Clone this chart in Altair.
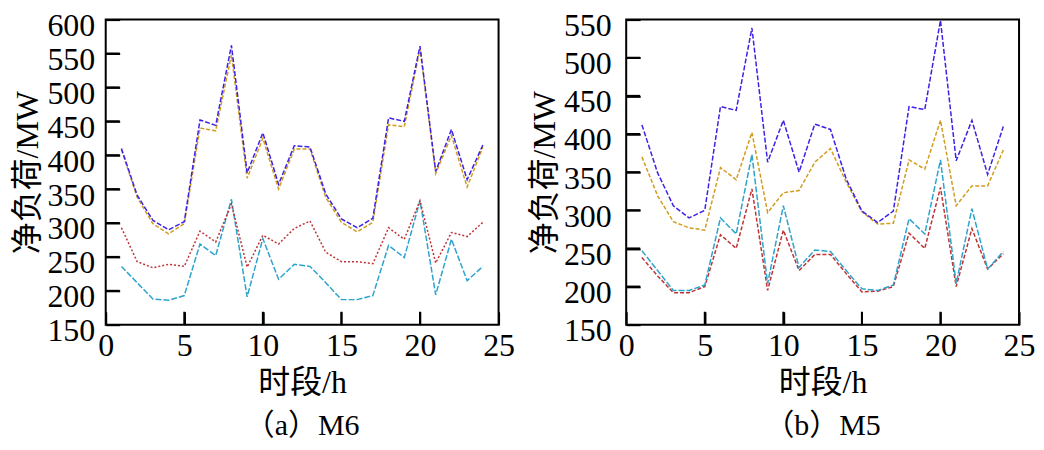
import altair as alt
import pandas as pd

hours = list(range(1, 25))

# (a) M6
m6_blue = [410, 341, 304, 290, 302, 452, 444, 562, 374, 433, 357, 414,
           412, 343, 306, 293, 307, 455, 450, 561, 376, 438, 364, 415]
m6_orange = [408, 338, 299, 284, 299, 440, 436, 548, 366, 425, 350, 409,
             409, 338, 301, 287, 301, 445, 442, 557, 373, 429, 353, 412]
m6_red = [293, 243, 234, 239, 236, 288, 272, 328, 235, 282, 269, 292,
          303, 257, 243, 243, 240, 293, 276, 333, 241, 286, 280, 301]
m6_cyan = [236, 212, 188, 186, 193, 269, 252, 335, 191, 277, 217, 239,
           236, 212, 187, 187, 193, 267, 249, 333, 194, 276, 215, 236]

# (b) M5
m5_blue = [412, 349, 306, 290, 300, 436, 431, 539, 363, 418, 350, 413,
           406, 341, 299, 284, 299, 436, 432, 549, 365, 418, 347, 410]
m5_orange = [370, 319, 285, 277, 274, 356, 340, 402, 297, 323, 326, 363,
             381, 337, 298, 282, 283, 366, 354, 418, 306, 332, 332, 379]
m5_cyan = [247, 221, 195, 195, 202, 290, 269, 373, 204, 306, 225, 248,
           246, 221, 197, 195, 202, 289, 269, 366, 204, 302, 223, 246]
m5_red = [238, 214, 192, 192, 200, 268, 250, 328, 195, 274, 221, 242,
          242, 217, 193, 194, 200, 270, 250, 330, 200, 276, 223, 243]

x_ticks = [0, 5, 10, 15, 20, 25]
m6_y_ticks = [150, 200, 250, 300, 350, 400, 450, 500, 550, 600]
m5_y_ticks = [150, 200, 250, 300, 350, 400, 450, 500, 550]

x_title = "时段/h"
y_title = "净负荷/MW"

FONT = "Liberation Serif, Noto Sans CJK SC"
C_BLUE = "#3d22e6"
C_ORANGE = "#d29c1e"
C_RED = "#bf3336"
C_CYAN = "#2ea4cc"

W, H = 394, 306
YTICK, XTICK = 14, 13


def panel(series, yticks, caption, lab_pad):
    xs = alt.Scale(domain=[x_ticks[0], x_ticks[-1]], nice=False)
    ys = alt.Scale(domain=[yticks[0], yticks[-1]], nice=False)
    # axes pulled inside the frame so that their ticks point inward
    x_axis = alt.Axis(values=x_ticks, ticks=True, tickSize=XTICK, tickWidth=2,
                      tickColor="black", tickOpacity=1, offset=-XTICK,
                      domain=False, grid=False, zindex=2,
                      labelFont=FONT, labelFontSize=32, labelColor="black",
                      labelPadding=6, labelFlush=False, labelOverlap=False,
                      title=x_title, titleFont=FONT, titleFontSize=32,
                      titleFontWeight="normal", titleColor="black",
                      titlePadding=6)
    y_axis = alt.Axis(values=yticks, ticks=True, tickSize=YTICK, tickWidth=2,
                      tickColor="black", tickOpacity=1, offset=-YTICK,
                      domain=False, grid=False, zindex=2,
                      labelFont=FONT, labelFontSize=32, labelColor="black",
                      labelPadding=lab_pad, labelFlush=False, labelOverlap=False,
                      labelOffset=6,
                      title=y_title, titleFont=FONT, titleFontSize=32,
                      titleFontWeight="normal", titleColor="black",
                      titlePadding=2)
    layers = []
    for vals, color, dash in series:
        d = pd.DataFrame({"h": hours, "v": vals})
        layers.append(
            alt.Chart(d).mark_line(color=color, strokeDash=dash, strokeWidth=1.5).encode(
                x=alt.X("h:Q", scale=xs, axis=x_axis),
                y=alt.Y("v:Q", scale=ys, axis=y_axis),
            )
        )
    # inward tick marks drawn as rules as well
    ytk = pd.DataFrame({"yt": yticks[1:-1], "x0": x_ticks[0]})
    xtk = pd.DataFrame({"xt": x_ticks[1:-1], "y0": yticks[0]})
    layers.append(
        alt.Chart(ytk).mark_rule(color="black", strokeWidth=2).encode(
            x=alt.X("x0:Q", scale=xs, axis=x_axis),
            y=alt.Y("yt:Q", scale=ys, axis=y_axis),
            x2=alt.value(YTICK),
        )
    )
    layers.append(
        alt.Chart(xtk).mark_rule(color="black", strokeWidth=2).encode(
            x=alt.X("xt:Q", scale=xs, axis=x_axis),
            y=alt.Y("y0:Q", scale=ys, axis=y_axis),
            y2=alt.value(H - XTICK),
        )
    )
    return alt.layer(*layers).properties(
        width=W, height=H,
        title=alt.TitleParams(caption, orient="bottom", font=FONT, fontSize=30,
                              fontWeight="normal", color="black", offset=13),
    )


left = panel(
    [(m6_cyan, C_CYAN, [6, 2]), (m6_red, C_RED, [2, 2]),
     (m6_orange, C_ORANGE, [4, 2]), (m6_blue, C_BLUE, [5, 2])],
    m6_y_ticks, "（a）M6", 11)
right = panel(
    [(m5_red, C_RED, [4, 2]), (m5_cyan, C_CYAN, [6, 2]),
     (m5_orange, C_ORANGE, [4, 2]), (m5_blue, C_BLUE, [5, 2])],
    m5_y_ticks, "（b）M5", 15)

chart = alt.hconcat(left, right, spacing=12).properties(
    padding={"left": 3, "top": 0, "right": 0, "bottom": 0},
    background="white",
).configure_view(stroke="black", strokeWidth=2)

chart.save("out.html", embed_options={"renderer": "svg", "actions": False})
